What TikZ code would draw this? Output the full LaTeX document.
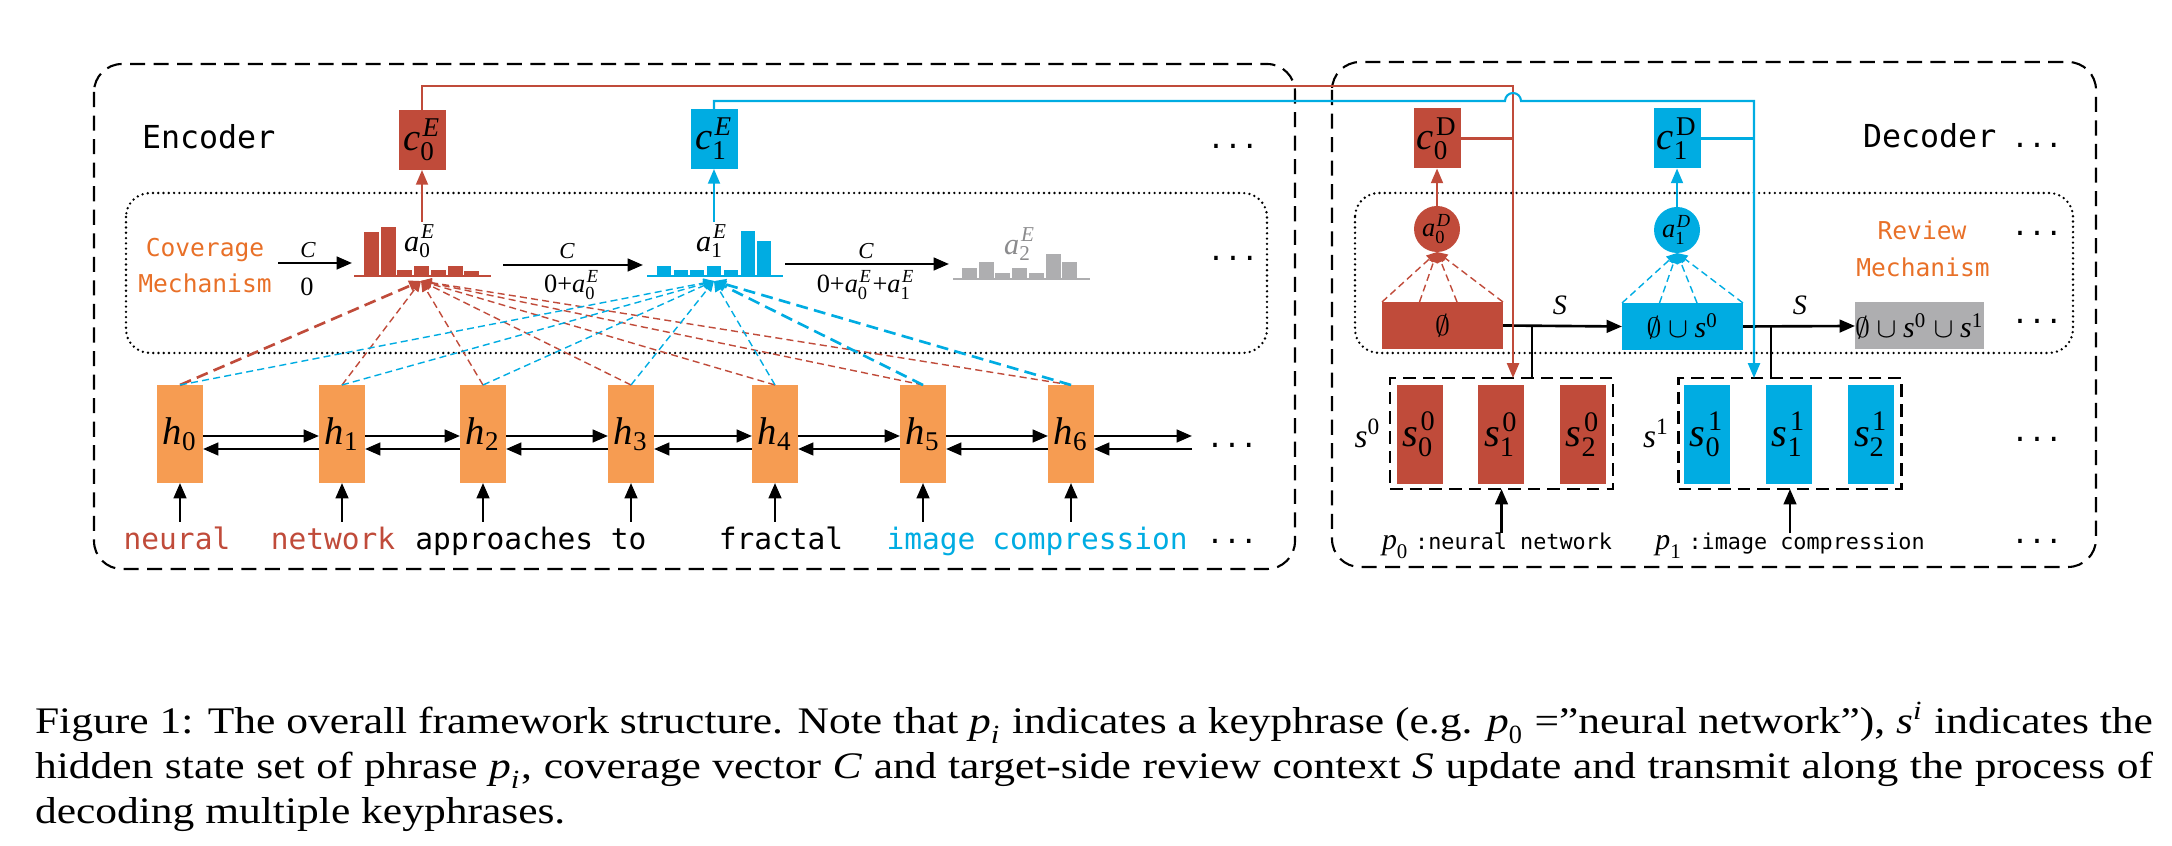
\documentclass[tikz,border=0pt]{standalone}
\usepackage{amsmath,amssymb}
\usepackage{fontspec}
\setmainfont{Liberation Serif}
\newfontfamily\monofont{DejaVu Sans Mono}
\newfontfamily\capfont[FakeStretch=1.16]{Liberation Serif}
\usetikzlibrary{arrows.meta,positioning,calc}
\definecolor{ecol}{RGB}{192,75,58}
\definecolor{dcol}{RGB}{0,172,226}
\definecolor{hcol}{RGB}{246,156,82}
\definecolor{mcol}{RGB}{232,112,40}
\definecolor{gcol}{RGB}{174,174,176}
\newcommand{\fsz}[1]{\fontsize{#1}{#1}\selectfont}
\newcommand{\vsym}[3]{\ensuremath{\textit{#1}_{\textrm{#2}}^{\kern0.06em#3}}}

\begin{document}
\begin{tikzpicture}[x=0.1mm,y=-0.1mm, every node/.style={inner sep=0pt,outer sep=0pt},
 frame/.style={line width=0.6pt,dash pattern=on 4.3pt off 2.4pt,rounded corners=2.8mm},
 dotbox/.style={line width=0.75pt,line cap=round,dash pattern=on 0pt off 1.5pt,rounded corners=2.4mm},
 arr/.style={-{Triangle[length=4.4pt,width=3.6pt]},line width=0.75pt},
 link/.style={line width=0.6pt},
 linkarr/.style={link,-{Triangle[length=4.2pt,width=3.4pt]}},
 attline/.style={dash pattern=on 2pt off 1.2pt,line width=0.4pt,-{Triangle[length=3pt,width=2.6pt]}},
 attthick/.style={dash pattern=on 3.4pt off 1.8pt,line width=0.75pt,-{Triangle[length=3.4pt,width=3pt]}},
 hbox/.style={fill=hcol,minimum width=4.6mm,minimum height=9.8mm,font=\fsz{11}},
 cbox/.style={minimum width=4.7mm,minimum height=6mm,font=\fsz{11}},
 sbox/.style={minimum width=4.6mm,minimum height=9.9mm,font=\fsz{11.5}},
 setbox/.style={draw,line width=0.6pt,dash pattern=on 3.6pt off 2pt,minimum width=22.3mm,minimum height=11.1mm},
 rbox/.style={minimum width=12.1mm,minimum height=4.7mm,font=\fsz{8.5}},
 attc/.style={circle,minimum size=4.6mm,font=\fsz{7.5}},
 word/.style={anchor=base,font=\monofont\fsz{8.4}},
 mech/.style={anchor=base,text=mcol,font=\monofont\fsz{7}},
 dots/.style={font=\monofont\fsz{8}}]
\useasboundingbox (0,0) rectangle (2172,846);
% frames
\draw[frame] (94,64) rectangle (1295,569);
\draw[frame] (1332,62) rectangle (2096,567);
\draw[dotbox] (126,193) rectangle (1267,353);
\draw[dotbox] (1355,193) rectangle (2073,353);
\node[anchor=base west,font=\monofont\fsz{9}] (enc) at (142,149) {Encoder};
\node[anchor=base west,font=\monofont\fsz{9}] (dec) at (1863,148) {Decoder};
\node[mech] (cov) at (205,257) {Coverage};
\node[mech] (covm) at (205,293) {Mechanism};
\node[mech] (rev) at (1922,240) {Review};
\node[mech] (revm) at (1923,277) {Mechanism};

% encoder states
\foreach \i/\x in {0/180,1/342,2/483,3/631,4/775,5/923,6/1071}
  \node[hbox] (h\i) at (\x,434) {\ensuremath{\textit{h}_{\textrm{\i}}}};
\coordinate (g0) at (421,281);
\coordinate (g1) at (714,281);
\foreach \i in {1,...,6} \draw[attline,ecol] (h\i.north) -- (g0);
\draw[attthick,ecol] (h0.north) -- (g0);
\foreach \i in {0,...,4} \draw[attline,dcol] (h\i.north) -- (g1);
\draw[attthick,dcol] (h5.north) -- (g1);\draw[attthick,dcol] (h6.north) -- (g1);
\foreach \i/\j in {0/1,1/2,2/3,3/4,4/5,5/6}{\draw[arr] ([yshift=-0.2mm]h\i.east) -- ([yshift=-0.2mm]h\j.west);\draw[arr] ([yshift=-1.5mm]h\j.west) -- ([yshift=-1.5mm]h\i.east);}
\coordinate (hend) at (1192,434);
\draw[arr] ([yshift=-0.2mm]h6.east) -- ([yshift=-0.2mm]hend);\draw[arr] ([yshift=-1.5mm]hend) -- ([yshift=-1.5mm]h6.east);
\foreach \i in {0,...,6} \draw[arr] ([yshift=-3.9mm]h\i.south) -- (h\i.south);
\node[word,text=ecol] (w0) at (177,550) {neural};
\node[word,text=ecol] (w1) at (333,550) {network};
\node[word] (w2) at (531,550) {approaches to};
\node[word] (w3) at (781,550) {fractal};
\node[word,text=dcol] (w4) at (931,550) {image};
\node[word,text=dcol] (w5) at (1090,550) {compression};

% coverage histograms
\foreach \t [count=\k from 0] in {232,227,270,266,270,266,271} \fill[ecol] ({364+16.7*\k},\t) rectangle ({379+16.7*\k},276);
\draw[ecol,link] (354,276) -- (491,276);
\foreach \t [count=\k from 0] in {266,270,270,266,270,231,241} \fill[dcol] ({657+16.7*\k},\t) rectangle ({671+16.7*\k},276);
\draw[dcol,link] (647,276) -- (783,276);
\foreach \t [count=\k from 0] in {268,262,273,268,273,254,262} \fill[gcol] ({962+16.7*\k},\t) rectangle ({977+16.7*\k},279);
\draw[gcol,link] (953,279) -- (1090,279);
\node[font=\fsz{8.6}] (a0E) at (420,241) {\vsym{a}{0}{\textit{E}}};
\node[font=\fsz{8.6}] (a1E) at (712,241) {\vsym{a}{1}{\textit{E}}};
\node[font=\fsz{8.6},text=gcol!80!black] (a2E) at (1020,244) {\vsym{a}{2}{\textit{E}}};
\coordinate (k0) at (278,263);\coordinate (k1) at (352,263);
\coordinate (k2) at (503,265);\coordinate (k3) at (643,265);
\coordinate (k4) at (785,264);\coordinate (k5) at (949,264);
\draw[arr] (k0) -- (k1);\draw[arr] (k2) -- (k3);\draw[arr] (k4) -- (k5);
\node[font=\fsz{6.5}] (cl0) at (308,250) {\textit{C}};
\node[font=\fsz{7.5}] (cv0) at (307,287) {0};
\node[font=\fsz{6.5}] (cl1) at (567,251) {\textit{C}};
\node[font=\fsz{7.5}] (cv1) at (572,285) {0+\vsym{a}{0}{\textit{E}}};
\node[font=\fsz{6.5}] (cl2) at (866,251) {\textit{C}};
\node[font=\fsz{7.5}] (cv2) at (866,285) {0+\vsym{a}{0}{\textit{E}}+\vsym{a}{1}{\textit{E}}};

% encoder contexts
\node[cbox,fill=ecol] (c0E) at (422,140) {\vsym{c}{0}{\textit{E}}};
\node[cbox,fill=dcol] (c1E) at (714,139) {\vsym{c}{1}{\textit{E}}};
\coordinate (t0) at (422,222);\coordinate (t1) at (714,222);
\draw[linkarr,ecol] (t0) -- (c0E.south);\draw[linkarr,dcol] (t1) -- (c1E.south);
\node[dots] (ed1) at (1233,146) {...};
\node[dots] (ed2) at (1233,258) {...};
\node[dots] (ed3) at (1232,445) {...};
\node[dots] (ed4) at (1232,541) {...};

% decoder review
\node[rbox,fill=ecol] (e0) at (1442.5,325.5) {\ensuremath{\emptyset}};
\node[rbox,fill=dcol] (e1) at (1682.5,326.5) {\ensuremath{\emptyset\cup\textit{s}^{\textrm{0}}}};
\node[rbox,fill=gcol] (e2) at (1919.5,326) {\ensuremath{\emptyset\cup\textit{s}^{\textrm{0}}\cup\textit{s}^{\textrm{1}}}};
\draw[arr] (e0.east) -- (e1.west);\draw[arr] (e1.east) -- (e2.west);
\node[font=\fsz{8}] (sl0) at (1560,305) {\textit{S}};
\node[font=\fsz{8}] (sl1) at (1800,305) {\textit{S}};
\node[attc,fill=ecol] (a0D) at (1437,229) {\vsym{a}{0}{\textit{D}}};
\node[attc,fill=dcol] (a1D) at (1677,230) {\vsym{a}{1}{\textit{D}}};
\foreach \f in {0,0.31,0.62,1}{\draw[attline,ecol] ($(e0.north west)!\f!(e0.north east)$) -- (a0D.south);\draw[attline,dcol] ($(e1.north west)!\f!(e1.north east)$) -- (a1D.south);}
\node[cbox,fill=ecol] (c0D) at (1437,138.5) {\vsym{c}{0}{\textrm{D}}};
\node[cbox,fill=dcol] (c1D) at (1677,138.5) {\vsym{c}{1}{\textrm{D}}};
\draw[linkarr,ecol] (a0D.north) -- (c0D.south);\draw[linkarr,dcol] (a1D.north) -- (c1D.south);

% phrase state sets
\node[setbox] (set0) at (1501.5,433.5) {};
\node[setbox] (set1) at (1790,433.5) {};
\foreach \k in {0,1,2}{\node[sbox,fill=ecol] (s\k0) at ({1419.5+81.7*\k},434.5) {\vsym{s}{\k}{\textrm{0}}};\node[sbox,fill=dcol] (s\k1) at ({1707+82*\k},434.5) {\vsym{s}{\k}{\textrm{1}}};}
\node[left=0.9mm of set0,font=\fsz{9.5}] (sup0) {\ensuremath{\textit{s}^{\textrm{0}}}};
\node[left=0.9mm of set1,font=\fsz{9.5}] (sup1) {\ensuremath{\textit{s}^{\textrm{1}}}};
\node[anchor=base,font=\fsz{8.5}] (p0) at (1497,550) {\ensuremath{\textit{p}_{\textrm{0}}}\hspace{0.6mm}{\monofont\fsz{6.2}:neural network}};
\node[anchor=base,font=\fsz{8.5}] (p1) at (1790,550) {\ensuremath{\textit{p}_{\textrm{1}}}\hspace{0.6mm}{\monofont\fsz{6.2}:image compression}};
\draw[arr] (set0.south |- p0.north) -- (set0.south);\draw[arr] (set1.south |- p1.north) -- (set1.south);
\coordinate (j0) at ($(e0.east)!0.244!(e1.west)$);\coordinate (j1) at ($(e1.east)!0.25!(e2.west)$);
\draw[link] (j0) -- (j0 |- set0.north);\draw[link] (j1) -- (j1 |- set1.north);
\node[dots] (dd1) at (2037,145) {...};
\node[dots] (dd2) at (2037,233) {...};
\node[dots] (dd3) at (2037,321) {...};
\node[dots] (dd4) at (2037,439) {...};
\node[dots] (dd5) at (2037,541) {...};

% context links from encoder to decoder
\coordinate (rc) at (1513,86);\coordinate (bc) at (1754,101);
\draw[linkarr,ecol] (c0E.north) |- (rc) -- (rc |- set0.north);
\draw[link,ecol] (c0D.east) -- (c0D.east -| rc);
\draw[linkarr,dcol] (c1E.north) |- ([xshift=-0.8mm]rc |- bc) arc[start angle=180,end angle=0,radius=0.8mm] -- (bc) -- (bc |- set1.north);
\draw[link,dcol] (c1D.east) -- (c1D.east -| bc);

% caption
\node[anchor=north west,text width=211.8mm,align=justify,font=\capfont\fontsize{10.67}{12.8}\selectfont] (cap) at (35,702) {Figure 1: The overall framework structure. Note that \ensuremath{\textit{p}_{\textit{i}}} indicates a keyphrase (e.g. \ensuremath{\textit{p}_{\textrm{0}}} =”neural network”), \ensuremath{\textit{s}^{\textit{i}}} indicates the hidden state set of phrase \ensuremath{\textit{p}_{\textit{i}}}, coverage vector \textit{C} and target-side review context \textit{S} update and transmit along the process of decoding multiple keyphrases.};
\end{tikzpicture}
\end{document}
